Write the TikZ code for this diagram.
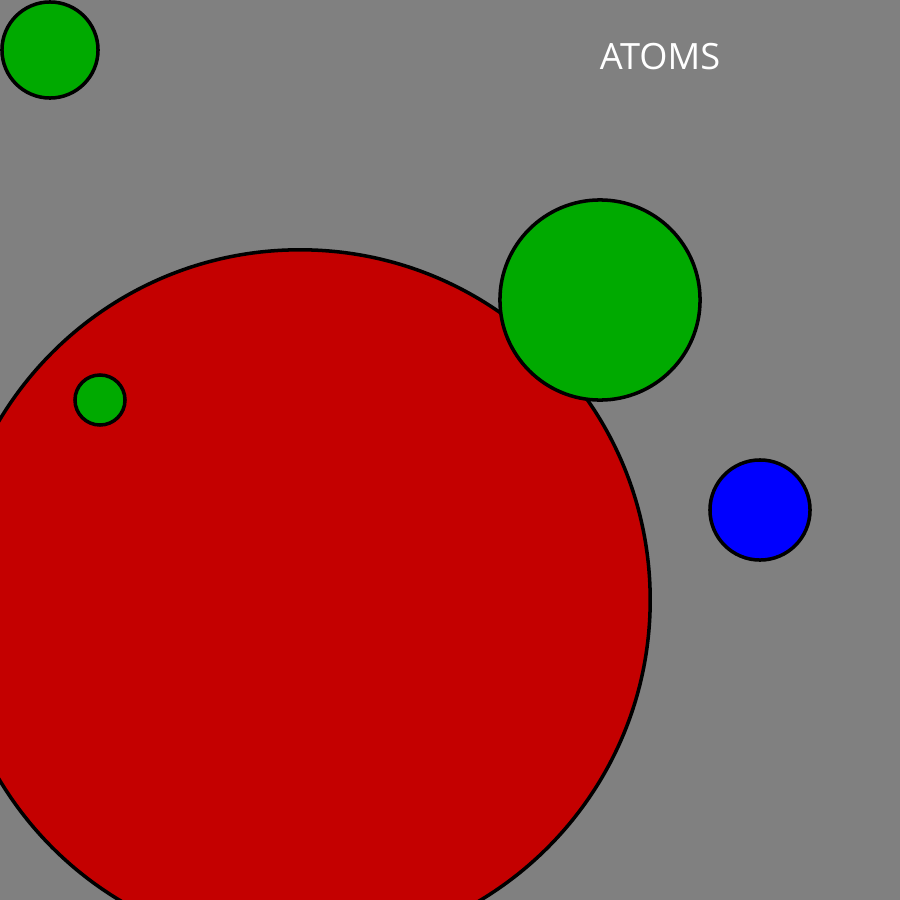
\documentclass[tikz,border=0pt]{standalone}
\usepackage{fontspec}
\setmainfont{Open Sans}
\definecolor{bg}{HTML}{808080}
\definecolor{atomred}{HTML}{C40000}
\definecolor{atomgreen}{HTML}{00AA00}
\definecolor{atomblue}{HTML}{0000FF}
\begin{document}
\begin{tikzpicture}[x=0.01cm,y=-0.01cm,
  atom/.style={draw=black,line width=1pt}]
\clip (0,0) rectangle (900,900);
\fill[bg] (0,0) rectangle (900,900);
\filldraw[atom,fill=atomred] (300,600) circle[radius=3.5cm];
\filldraw[atom,fill=atomgreen] (100,400) circle[radius=0.25cm];
\filldraw[atom,fill=atomgreen] (600,300) circle[radius=1cm];
\filldraw[atom,fill=atomgreen] (50,50) circle[radius=0.48cm];
\filldraw[atom,fill=atomblue] (760,510) circle[radius=0.5cm];
\node[text=white,font=\fontsize{10.3pt}{12pt}\selectfont,inner sep=0pt] (title) at (660,57) {ATOMS};
\end{tikzpicture}
\end{document}
